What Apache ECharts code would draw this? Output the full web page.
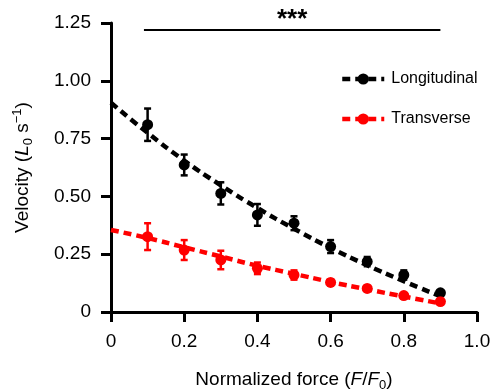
<!DOCTYPE html>
<html><head><meta charset="utf-8">
<script src="https://cdn.jsdelivr.net/npm/echarts@6/dist/echarts.min.js"></script>
<style>html,body{margin:0;padding:0;background:#fff}#c{width:492px;height:392px}</style>
</head><body><div id="c"></div>
<script>
// ---- data ----
const force = [0.1, 0.2, 0.3, 0.4, 0.5, 0.6, 0.7, 0.8, 0.9];
const longV = [0.81, 0.636, 0.513, 0.42, 0.384, 0.283, 0.218, 0.16, 0.083];
const longErr = [0.07, 0.045, 0.048, 0.047, 0.03, 0.028, 0.02, 0.02, 0.01];
const transV = [0.326, 0.268, 0.225, 0.189, 0.16, 0.128, 0.102, 0.071, 0.045];
const transErr = [0.058, 0.043, 0.04, 0.025, 0.02, 0.012, 0.01, 0.01, 0.01];
const fitForce = [0, 0.1, 0.2, 0.3, 0.4, 0.5, 0.6, 0.7, 0.8, 0.9];
const longFit = [0.905, 0.775, 0.655, 0.548, 0.45, 0.36, 0.277, 0.202, 0.133, 0.068];
const transFit = [0.355, 0.32, 0.28, 0.24, 0.2, 0.165, 0.13, 0.098, 0.067, 0.037];
const xTickLabels = ['0', '0.2', '0.4', '0.6', '0.8', '1.0'];
const yTickLabels = ['0', '0.25', '0.50', '0.75', '1.00', '1.25'];
const seriesNames = ['Longitudinal', 'Transverse'];
const sigRange = [0.09, 0.9];
const sigLevel = 1.22;
const sigText = '***';

const FONT = "'Liberation Sans', Arial, sans-serif";
const BLACK = '#000000', RED = '#ff0000';
const colors = [BLACK, RED];

function zip(a, b) { return a.map((v, i) => [v, b[i]]); }
function errData(v, e) { return force.map((x, i) => [x, v[i] - e[i], v[i] + e[i]]); }
function errRender(color) {
  return function (params, api) {
    const x = api.value(0), lo = api.value(1), hi = api.value(2);
    const pLo = api.coord([x, lo]), pHi = api.coord([x, hi]);
    const w = 3.5;
    const style = { stroke: color, lineWidth: 2.5 };
    return { type: 'group', children: [
      { type: 'line', shape: { x1: pLo[0], y1: pLo[1], x2: pHi[0], y2: pHi[1] }, style },
      { type: 'line', shape: { x1: pHi[0] - w, y1: pHi[1], x2: pHi[0] + w, y2: pHi[1] }, style },
      { type: 'line', shape: { x1: pLo[0] - w, y1: pLo[1], x2: pLo[0] + w, y2: pLo[1] }, style }
    ] };
  };
}
function fitSeries(name, data, color) {
  return {
    name, type: 'line', data, smooth: true, symbol: 'circle', symbolSize: 10, showSymbol: false,
    lineStyle: { color, width: 4.5, type: [8, 5] }, itemStyle: { color, borderWidth: 0 }, z: 2, silent: true
  };
}
function ptSeries(name, data, color) {
  return { name, type: 'scatter', data, symbol: 'circle', symbolSize: 11, itemStyle: { color, opacity: 1 }, z: 3 };
}
function errSeries(name, data, color) {
  return { name, type: 'custom', data, renderItem: errRender(color), z: 4, encode: { x: 0, y: [1, 2] } };
}

const chart = echarts.init(document.getElementById('c'), null, { renderer: 'canvas' });
chart.setOption({
  animation: false,
  backgroundColor: '#fff',
  grid: { left: 111, right: 15, top: 23, bottom: 80, containLabel: false, outerBoundsMode: 'none' },
  legend: {
    data: seriesNames.map((n, i) => ({
      name: n,
      itemStyle: { color: colors[i], borderWidth: 0, opacity: 1 },
      lineStyle: { color: colors[i], width: 4.5, type: [8, 5], opacity: 1 }
    })),
    orient: 'vertical', left: 335, top: 66,
    itemWidth: 42, itemHeight: 14, itemGap: 24,
    textStyle: { fontFamily: FONT, fontSize: 16, color: '#000', padding: [0, 0, 0, 2] },
    selectedMode: false
  },
  xAxis: {
    type: 'value', min: 0, max: 1, interval: 0.2,
    name: '{a|Normalized force (}{i|F}{a|/}{i|F}{sub|0}{a|)}',
    nameLocation: 'middle', nameGap: 56,
    nameTextStyle: { fontFamily: FONT, fontSize: 19, color: '#000', rich: {
      a: { fontFamily: FONT, fontSize: 19, color: '#000', lineHeight: 24 },
      i: { fontFamily: FONT, fontSize: 19, fontStyle: 'italic', color: '#000', lineHeight: 24 },
      sub: { fontFamily: FONT, fontSize: 13, color: '#000', lineHeight: 24, verticalAlign: 'bottom' }
    } },
    splitLine: { show: false },
    axisLine: { show: true, onZero: false, lineStyle: { color: '#000', width: 3 } },
    axisTick: { show: true, length: 10, lineStyle: { color: '#000', width: 3 } },
    axisLabel: { fontFamily: FONT, fontSize: 19, color: '#000', margin: 20,
      formatter: v => xTickLabels[Math.round(v / 0.2)] }
  },
  yAxis: {
    type: 'value', min: 0, max: 1.25, interval: 0.25,
    name: '{a|Velocity (}{i|L}{sub|0}{a| s}{sup|\u22121}{a|)}',
    nameLocation: 'middle', nameGap: 76, nameRotate: 90,
    nameTextStyle: { fontFamily: FONT, fontSize: 19, color: '#000', rich: {
      a: { fontFamily: FONT, fontSize: 19, color: '#000', lineHeight: 24 },
      i: { fontFamily: FONT, fontSize: 19, fontStyle: 'italic', color: '#000', lineHeight: 24 },
      sub: { fontFamily: FONT, fontSize: 13, color: '#000', lineHeight: 24, verticalAlign: 'bottom' },
      sup: { fontFamily: FONT, fontSize: 13, color: '#000', lineHeight: 24, verticalAlign: 'top' }
    } },
    splitLine: { show: false },
    axisLine: { show: true, onZero: false, lineStyle: { color: '#000', width: 3 } },
    axisTick: { show: true, length: 10, lineStyle: { color: '#000', width: 3 } },
    axisLabel: { fontFamily: FONT, fontSize: 19, color: '#000', margin: 20,
      formatter: v => yTickLabels[Math.round(v / 0.25)] }
  },
  series: [
    fitSeries(seriesNames[0], zip(fitForce, longFit), BLACK),
    fitSeries(seriesNames[1], zip(fitForce, transFit), RED),
    ptSeries(seriesNames[0], zip(force, longV), BLACK),
    ptSeries(seriesNames[1], zip(force, transV), RED),
    errSeries(seriesNames[0], errData(longV, longErr), BLACK),
    errSeries(seriesNames[1], errData(transV, transErr), RED),
    {
      type: 'line', data: [], silent: true,
      markLine: {
        symbol: 'none', silent: true, animation: false,
        lineStyle: { color: '#000', width: 2, type: 'solid' },
        label: { show: true, position: 'middle', formatter: sigText, distance: -3,
          fontFamily: FONT, fontSize: 26, fontWeight: 'bold', color: '#000' },
        data: [[{ coord: [sigRange[0], sigLevel] }, { coord: [sigRange[1], sigLevel] }]]
      }
    }
  ]
});
</script>
</body></html>
